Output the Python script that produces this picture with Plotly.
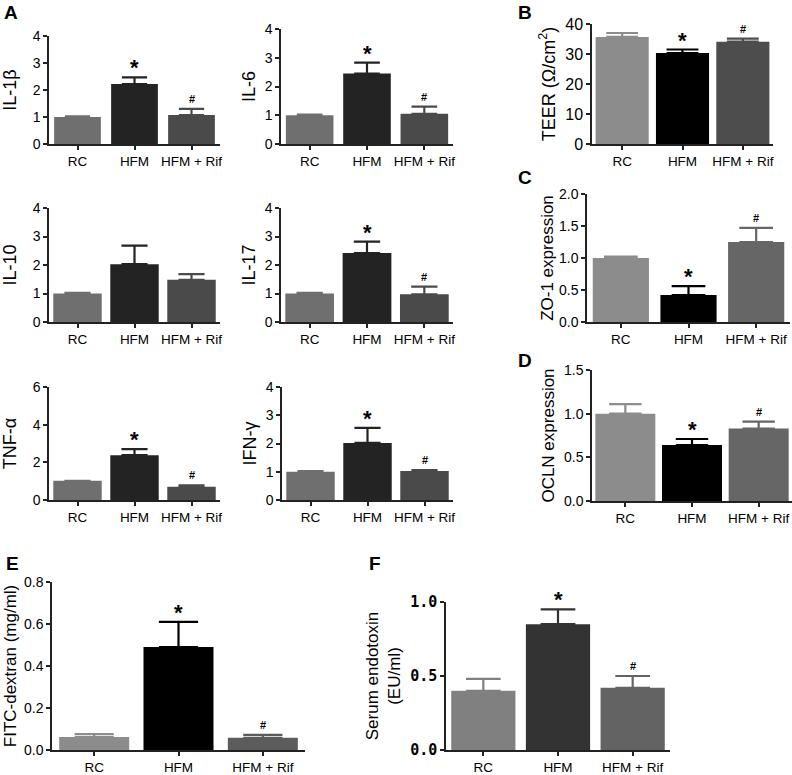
import plotly.graph_objects as go

W, H = 792, 775
categories = ["RC", "HFM", "HFM + Rif"]

# ---- data ----
il1b_mean = [1.0, 2.22, 1.07]; il1b_err = [0.02, 0.25, 0.23]; il1b_sig = ["", "*", "#"]
il6_mean = [1.0, 2.45, 1.05];  il6_err = [0.02, 0.38, 0.25];  il6_sig = ["", "*", "#"]
il10_mean = [1.0, 2.03, 1.48]; il10_err = [0.02, 0.65, 0.20]; il10_sig = ["", "", ""]
il17_mean = [1.0, 2.42, 0.97]; il17_err = [0.02, 0.40, 0.27]; il17_sig = ["", "*", "#"]
tnf_mean = [1.02, 2.38, 0.70]; tnf_err = [0.0, 0.32, 0.08];   tnf_sig = ["", "*", "#"]
ifn_mean = [1.0, 2.02, 1.03];  ifn_err = [0.02, 0.53, 0.03];  ifn_sig = ["", "*", "#"]
teer_mean = [35.7, 30.3, 34.1]; teer_err = [1.3, 1.2, 1.0];   teer_sig = ["", "*", "#"]
zo1_mean = [1.0, 0.42, 1.25];  zo1_err = [0.02, 0.14, 0.22];  zo1_sig = ["", "*", "#"]
ocln_mean = [1.0, 0.64, 0.83]; ocln_err = [0.11, 0.07, 0.08]; ocln_sig = ["", "*", "#"]
fitc_mean = [0.062, 0.49, 0.058]; fitc_err = [0.014, 0.12, 0.014]; fitc_sig = ["", "*", "#"]
endo_mean = [0.40, 0.85, 0.42]; endo_err = [0.08, 0.10, 0.08]; endo_sig = ["", "*", "#"]

colA = ["#6f6f6f", "#232323", "#4a4a4a"]
colB = ["#8c8c8c", "#000000", "#4d4d4d"]
colC = ["#8c8c8c", "#000000", "#666666"]
colE = ["#8c8c8c", "#000000", "#5c5c5c"]
colF = ["#808080", "#333333", "#636363"]

FONT = "Liberation Sans, Arial, sans-serif"

# means, errs, sigs, colors, (x0,x1,y0,y1) px, range, dtick, title, bar width, tickfmt,
# tick font, title font, cap factor, title standoff
panels = [
    (il1b_mean, il1b_err, il1b_sig, colA, (49, 220, 36, 144), [0, 4], 1, "IL-1β", 0.82, "d", 14, 18, 0.27, 12),
    (il6_mean, il6_err, il6_sig, colA, (281, 453, 29, 144), [0, 4], 1, "IL-6", 0.83, "d", 14, 18, 0.27, 4),
    (il10_mean, il10_err, il10_sig, colA, (49, 220, 208, 322), [0, 4], 1, "IL-10", 0.85, "d", 14, 18, 0.27, 12),
    (il17_mean, il17_err, il17_sig, colA, (281, 453, 208, 322), [0, 4], 1, "IL-17", 0.85, "d", 14, 18, 0.27, 4),
    (tnf_mean, tnf_err, tnf_sig, colA, (49, 220, 387, 500), [0, 6], 2, "TNF-α", 0.85, "d", 14, 18, 0.27, 12),
    (ifn_mean, ifn_err, ifn_sig, colA, (282, 453, 387, 500), [0, 4], 1, "IFN-γ", 0.85, "d", 14, 18, 0.27, 4),
    (teer_mean, teer_err, teer_sig, colB, (592, 773, 24, 144), [0, 40], 10, "TEER (Ω/cm<sup>2</sup>)", 0.88, "d", 16, 18, 0.3, 5),
    (zo1_mean, zo1_err, zo1_sig, colC, (587, 790, 194, 322), [0, 2], 0.5, "ZO-1 expression", 0.83, ".1f", 14, 17, 0.3, 1),
    (ocln_mean, ocln_err, ocln_sig, colC, (592, 792, 370, 501), [0, 1.5], 0.5, "OCLN expression", 0.9, ".1f", 14, 17, 0.27, 5),
    (fitc_mean, fitc_err, fitc_sig, colE, (52, 305, 582, 750), [0, 0.8], 0.2, "FITC-dextran (mg/ml)", 0.83, ".1f", 14, 17, 0.28, 3),
    (endo_mean, endo_err, endo_sig, colF, (446, 670, 602, 750), [0, 1.0], 0.5, "Serum endotoxin<br>(EU/ml)", 0.86, ".1f", 15, 17, 0.27, 5),
]

fig = go.Figure()
layout = dict(width=W, height=H, margin=dict(l=0, r=0, t=0, b=0, autoexpand=False),
              paper_bgcolor="white", plot_bgcolor="white", showlegend=False,
              barmode="overlay", font=dict(family=FONT, color="black"))
annotations = []

for i, (means, errs, sigs, cols, (x0, x1, y0, y1), rng, dt, title, bw, fmt, tfs, titfs, capk, so) in enumerate(panels):
    n = i + 1
    xa = "x" if n == 1 else f"x{n}"
    ya = "y" if n == 1 else f"y{n}"
    axw = (x1 - x0) / 3.0
    for j in range(3):
        fig.add_trace(go.Bar(
            x=[categories[j]], y=[means[j]], xaxis=xa, yaxis=ya, width=[bw],
            marker=dict(color=cols[j], line=dict(width=0)),
            error_y=dict(type="data", symmetric=False, array=[errs[j]], arrayminus=[0],
                         color=cols[j], thickness=2.2, width=capk * bw * axw),
        ))
        if sigs[j]:
            is_star = sigs[j] == "*"
            annotations.append(dict(
                x=categories[j], y=means[j] + errs[j], xref=xa, yref=ya,
                text="<b>*</b>" if is_star else "<b>#</b>", showarrow=False,
                yanchor="bottom", yshift=-5 if is_star else 2,
                font=dict(size=22 if is_star else 11, family=FONT, color="black")))
    is_F = (n == 11)
    yax = dict(domain=[1 - y1 / H, 1 - y0 / H], anchor=xa, range=rng, dtick=dt,
               tick0=0, tickformat=fmt, showline=True, linecolor="#222", linewidth=1.5,
               ticks="outside", ticklen=4, tickwidth=1.5, tickcolor="#222",
               showgrid=False, zeroline=False,
               tickfont=dict(size=tfs, family="DejaVu Sans Mono, monospace" if is_F else FONT,
                             weight="bold" if is_F else "normal", color="black"),
               title=dict(text=title, font=dict(size=titfs, family=FONT), standoff=so))
    xax = dict(domain=[x0 / W, x1 / W], anchor=ya, range=[-0.5, 2.5], type="category",
               categoryorder="array", categoryarray=categories,
               showline=True, linecolor="#222", linewidth=1.5, ticks="outside",
               ticklen=4, tickwidth=1.5, tickcolor="#222", showgrid=False, zeroline=False,
               tickfont=dict(size=13.5, family=FONT))
    layout["xaxis" if n == 1 else f"xaxis{n}"] = xax
    layout["yaxis" if n == 1 else f"yaxis{n}"] = yax

letters = [("A", 11, 13), ("B", 525, 12), ("C", 525, 177), ("D", 525, 360), ("E", 12, 563), ("F", 375, 563)]
for t, px, py in letters:
    annotations.append(dict(x=px / W, y=1 - py / H, xref="paper", yref="paper", text=f"<b>{t}</b>",
                            showarrow=False, xanchor="center", yanchor="middle",
                            font=dict(size=19, family=FONT, color="black")))

layout["annotations"] = annotations
fig.update_layout(**layout)
fig.write_html("out.html", config={"displayModeBar": False},
               post_script="document.body.style.margin='0';document.body.style.padding='0';")
